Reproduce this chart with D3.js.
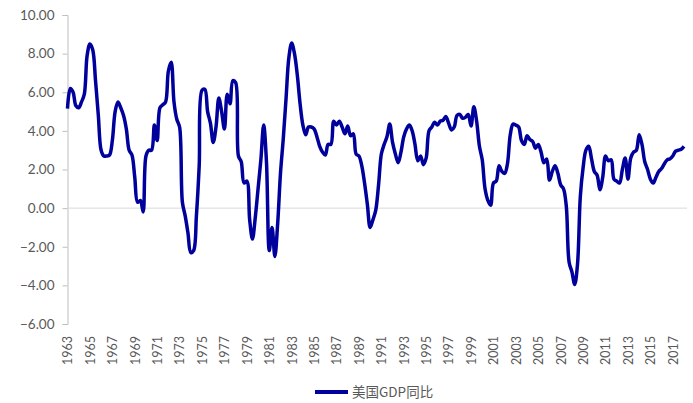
<!DOCTYPE html>
<html>
<head>
<meta charset="utf-8">
<title>美国GDP同比</title>
<script src="https://d3js.org/d3.v7.min.js"></script>
<style>
  body { margin: 0; background: #fff; }
  .axis text { fill: #595959; font-family: Lato, "Liberation Sans", sans-serif; }
</style>
</head>
<body>
<div id="chart"></div>
<script>
// ---------------- data ----------------
// quarterly YoY values, oldest first
const gdpYoY = [
  5.15, 6.2, 6.0, 5.3, 5.2, 5.5, 5.9, 7.9, 8.5, 8.2,
  6.6, 4.8, 3.0, 2.7, 2.7, 2.75, 3.5, 5.0, 5.5, 5.2,
  4.8, 4.1, 3.0, 2.75, 1.6, 0.3, 0.4, -0.2, 2.7, 3.0,
  3.0, 4.3, 3.5, 5.2, 5.35, 5.5, 7.1, 7.55, 5.5, 4.6,
  4.2, 0.3, -0.4, -1.3, -2.3, -2.2, -0.4, 2.2, 6.1, 6.15,
  5.0, 4.4, 3.4, 4.2, 5.7, 5.0, 4.1, 5.9, 5.4, 6.6,
  6.5, 2.7, 2.4, 1.3, 1.4, -0.6, -1.6, -0.5, 1.0, 2.5,
  4.3, 2.4, -2.2, -1.0, -2.5, -0.8, 1.8, 3.6, 5.7, 7.8,
  8.55, 8.0, 6.9, 5.4, 4.3, 3.8, 4.2, 4.2, 4.1, 3.7,
  3.2, 2.9, 2.75, 3.3, 3.3, 4.5, 4.3, 4.5, 4.2, 3.85,
  4.25, 3.75, 3.85, 2.8, 2.7, 2.2, 1.3, 0.2, -1.0, -0.6,
  -0.1, 1.2, 2.8, 3.3, 3.7, 4.35, 3.4, 2.8, 2.35, 2.9,
  3.7, 4.1, 4.3, 4.0, 3.3, 2.45, 2.7, 2.25, 2.6, 4.0,
  4.2, 4.45, 4.3, 4.5, 4.55, 4.75, 4.4, 4.05, 4.2, 4.8,
  4.85, 4.65, 4.7, 4.85, 4.25, 5.25, 4.5, 3.2, 2.5, 1.0,
  0.4, 0.15, 1.3, 1.4, 2.2, 1.9, 1.8, 2.3, 3.8, 4.35,
  4.3, 4.2, 3.5, 3.3, 3.75, 3.55, 3.45, 3.1, 3.3, 2.9,
  2.35, 2.55, 1.45, 1.9, 2.2, 1.8, 1.2, 1.0, 0.1, -2.8,
  -3.3, -3.95, -2.9, 0.6, 2.1, 3.0, 3.2, 2.55, 1.9, 1.7,
  0.95, 1.6, 2.7, 2.45, 2.5, 1.5, 1.4, 1.3, 2.0, 2.6,
  1.5, 2.6, 2.9, 3.0, 3.8, 3.3, 2.4, 2.0, 1.5, 1.3,
  1.6, 1.9, 2.05, 2.3, 2.5, 2.55, 2.7, 2.95, 3.0, 3.05,
  3.2
];

// category labels shown every 8 quarters
const xLabels = ["1963", "1965", "1967", "1969", "1971", "1973", "1975",
  "1977", "1979", "1981", "1983", "1985", "1987", "1989", "1991", "1993",
  "1995", "1997", "1999", "2001", "2003", "2005", "2007", "2009", "2011",
  "2013", "2015", "2017"];
const yTicks = [-6, -4, -2, 0, 2, 4, 6, 8, 10];
const seriesName = "美国GDP同比";

// ---------------- svg ----------------
const width = 693;
const height = 403;
const plot = { left: 67.5, right: 687, top: 15, bottom: 324 };
const lineColor = "#00009c";

const svg = d3.select("#chart").append("svg")
    .attr("width", width)
    .attr("height", height);

// ---------------- scales ----------------
const x = d3.scaleLinear()
    .domain([0, gdpYoY.length - 1])
    .range([plot.left, 684]);

const y = d3.scaleLinear()
    .domain([-6, 10])
    .range([plot.bottom, plot.top]);

// ---------------- axes ----------------
const yAxis = d3.axisLeft(y)
    .tickValues(yTicks)
    .tickSize(5)
    .tickPadding(8)
    .tickFormat(d3.format(".2f"));

svg.append("g")
    .attr("class", "axis")
    .attr("transform", "translate(" + plot.left + ",0)")
    .call(yAxis)
    .call(g => g.selectAll("path, line").attr("stroke", "#bfbfbf"))
    .call(g => g.selectAll("text").style("font-size", "13.5px"));

// zero line
svg.append("line")
    .attr("x1", plot.left)
    .attr("x2", plot.right)
    .attr("y1", y(0))
    .attr("y2", y(0))
    .attr("stroke", "#d9d9d9")
    .attr("stroke-width", 1);

// rotated year labels at the bottom
const xAxis = d3.axisBottom(x)
    .tickValues(xLabels.map((d, i) => i * 8))
    .tickSize(0)
    .tickFormat((d, i) => xLabels[i]);

svg.append("g")
    .attr("class", "axis")
    .attr("transform", "translate(0," + plot.bottom + ")")
    .call(xAxis)
    .call(g => g.select(".domain").remove())
    .call(g => g.selectAll("text")
        .style("font-size", "12.5px")
        .attr("transform", "rotate(-90)")
        .attr("text-anchor", "end")
        .attr("x", -12)
        .attr("y", 0)
        .attr("dy", "0.35em"));

// ---------------- line ----------------
const line = d3.line()
    .x((d, i) => x(i))
    .y(d => y(d))
    .curve(d3.curveCatmullRom.alpha(0.5));

svg.append("path")
    .datum(gdpYoY)
    .attr("fill", "none")
    .attr("stroke", lineColor)
    .attr("stroke-width", 3.5)
    .attr("stroke-linejoin", "round")
    .attr("d", line);

// ---------------- legend ----------------
const legend = svg.append("g")
    .attr("transform", "translate(315,392)");

legend.append("line")
    .attr("x1", 0)
    .attr("x2", 33)
    .attr("stroke", lineColor)
    .attr("stroke-width", 4);

legend.append("text")
    .attr("x", 37)
    .attr("dy", "0.35em")
    .attr("fill", "#595959")
    .style("font-family", "'Noto Sans CJK SC', sans-serif")
    .style("font-size", "13.5px")
    .text(seriesName);
</script>
</body>
</html>
